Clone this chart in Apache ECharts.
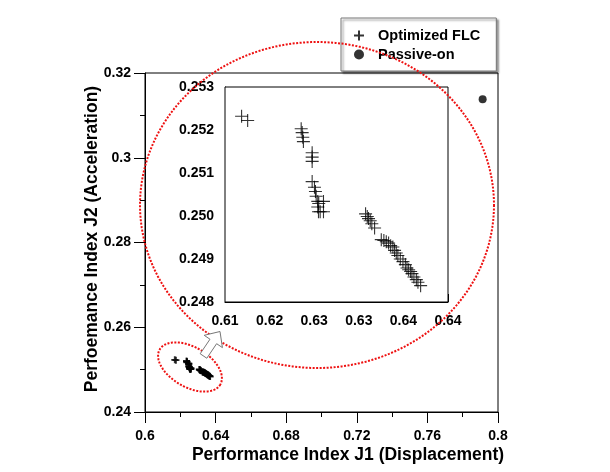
<!DOCTYPE html>
<html>
<head>
<meta charset="utf-8">
<script src="https://cdn.jsdelivr.net/npm/echarts@6/dist/echarts.min.js"></script>
<style>
html,body{margin:0;padding:0;background:#fff;}
#chart{width:610px;height:472px;}
</style>
</head>
<body>
<div id="chart"></div>
<script>
// ---- data ----
const flcJ1 = [0.61686,0.61754,0.62354,0.62365,0.62372,0.62379,0.62477,0.62477,0.62477,0.62477,0.62503,0.62514,0.62522,0.6254,0.62551,0.6254,0.62567,0.62548,0.62604,0.62604,
  0.63076,0.63095,0.63109,0.63128,0.63146,0.63177,0.63252,0.63281,0.63308,0.63334,0.63357,0.63382,0.63401,0.6342,0.63438,0.63465,0.63495,0.63522,0.6354,0.63559,0.63581,0.63596,0.63618,0.63645,0.63663,0.63693];
const flcJ2 = [0.25232,0.25222,0.25203,0.25194,0.25183,0.25173,0.25147,0.25137,0.25127,0.2508,0.25067,0.25057,0.25046,0.25034,0.25029,0.25021,0.2501,0.2501,0.25034,0.2501,
  0.25005,0.24999,0.24994,0.24989,0.24982,0.24972,0.24945,0.24943,0.2494,0.24937,0.24931,0.24928,0.2492,0.24914,0.24908,0.249,0.24894,0.24887,0.24879,0.24875,0.24871,0.24866,0.24858,0.24852,0.24846,0.24838];
const passiveJ1 = [0.7913];
const passiveJ2 = [0.3138];

const seriesNames = ['Optimized FLC', 'Passive-on'];
const xAxisTitle = 'Performance Index J1 (Displacement)';
const yAxisTitle = 'Perfoemance Index J2 (Acceleration)';

// ---- helpers ----
const pairs = (xs, ys) => xs.map((x, i) => [x, ys[i]]);
const plusPath = 'path://M0,5L10,5M5,0L5,10';
const FONT = 'Arial, "Liberation Sans", sans-serif';

function ellipsePts(cx, cy, a, b, rotDeg) {
  const pts = [];
  const r = rotDeg * Math.PI / 180;
  for (let i = 0; i < 180; i++) {
    const t = i / 180 * Math.PI * 2;
    const x = a * Math.cos(t), y = b * Math.sin(t);
    pts.push([cx + x * Math.cos(r) - y * Math.sin(r), cy + x * Math.sin(r) + y * Math.cos(r)]);
  }
  return pts;
}
function arrowPts(tx, ty, hx, hy) {
  const dx = hx - tx, dy = hy - ty, L = Math.hypot(dx, dy);
  const ux = dx / L, uy = dy / L, nx = -uy, ny = ux;
  const local = [[0,-4],[L-12,-4],[L-12,-11],[L,0],[L-12,11],[L-12,4],[0,4]];
  return local.map(([s, w]) => [tx + ux * s + nx * w, ty + uy * s + ny * w]);
}

const chart = echarts.init(document.getElementById('chart'), null, {renderer: 'canvas'});
const axisLabelStyle = {color: '#000', fontWeight: 'bold', fontSize: 14, fontFamily: FONT};

chart.setOption({
  animation: false,
  backgroundColor: '#fff',
  grid: [
    {left: 145, right: 112, top: 73, bottom: 60, show: true, borderColor: '#000', borderWidth: 1, backgroundColor: 'transparent'},
    {left: 225, right: 162, top: 87, bottom: 170, show: true, borderColor: '#000', borderWidth: 1, backgroundColor: '#fff', z: 5}
  ],
  xAxis: [
    {gridIndex: 0, type: 'value', min: 0.6, max: 0.8, interval: 0.04,
      axisLine: {lineStyle: {color: '#000', width: 1}},
      axisTick: {show: true, inside: false, length: 11, lineStyle: {color: '#000'}},
      minorTick: {show: true, splitNumber: 2, length: 5, lineStyle: {color: '#000'}},
      splitLine: {show: false},
      axisLabel: Object.assign({margin: 17}, axisLabelStyle)},
    {gridIndex: 1, type: 'value', min: 0.615, max: 0.64, interval: 0.005,
      axisLine: {lineStyle: {color: '#000', width: 1}},
      axisTick: {show: true, inside: true, length: 8, lineStyle: {color: '#000'}},
      minorTick: {show: true, splitNumber: 2, length: 4, lineStyle: {color: '#000'}},
      splitLine: {show: false},
      axisLabel: Object.assign({margin: 12, formatter: v => v.toFixed(2)}, axisLabelStyle)}
  ],
  yAxis: [
    {gridIndex: 0, type: 'value', min: 0.24, max: 0.32, interval: 0.02,
      axisLine: {lineStyle: {color: '#000', width: 1}},
      axisTick: {show: true, inside: false, length: 11, lineStyle: {color: '#000'}},
      minorTick: {show: true, splitNumber: 2, length: 5, lineStyle: {color: '#000'}},
      splitLine: {show: false},
      axisLabel: Object.assign({margin: 14}, axisLabelStyle)},
    {gridIndex: 1, type: 'value', min: 0.248, max: 0.253, interval: 0.001,
      axisLine: {lineStyle: {color: '#000', width: 1}},
      axisTick: {show: true, inside: true, length: 8, lineStyle: {color: '#000'}},
      minorTick: {show: true, splitNumber: 2, length: 4, lineStyle: {color: '#000'}},
      splitLine: {show: false},
      axisLabel: Object.assign({margin: 11, formatter: v => v.toFixed(3)}, axisLabelStyle)}
  ],
  legend: {
    data: [{name: seriesNames[0], icon: plusPath}, {name: seriesNames[1], icon: 'circle'}],
    orient: 'vertical', left: 341, top: 18,
    padding: [10, 16, 9, 12], itemGap: 4, itemWidth: 20, itemHeight: 10,
    backgroundColor: '#fff', borderColor: '#777', borderWidth: 1,
    shadowColor: 'rgba(0,0,0,0.45)', shadowBlur: 2, shadowOffsetX: 2, shadowOffsetY: 2,
    textStyle: {color: '#000', fontWeight: 'bold', fontSize: 14.5, fontFamily: FONT, padding: [0,0,0,4]},
    selectedMode: false
  },
  series: [
    {name: seriesNames[0], type: 'scatter', xAxisIndex: 0, yAxisIndex: 0,
      data: pairs(flcJ1, flcJ2), symbol: plusPath, symbolSize: 7,
      itemStyle: {color: '#000', borderColor: '#000', borderWidth: 1.8}, z: 3},
    {name: seriesNames[1], type: 'scatter', xAxisIndex: 0, yAxisIndex: 0,
      data: pairs(passiveJ1, passiveJ2), symbol: 'circle', symbolSize: 8,
      itemStyle: {color: '#000'}, z: 3},
    {name: seriesNames[0], type: 'scatter', xAxisIndex: 1, yAxisIndex: 1,
      data: pairs(flcJ1, flcJ2), symbol: plusPath, symbolSize: 13,
      itemStyle: {color: '#000', borderColor: '#000', borderWidth: 1.1}, z: 6}
  ],
  graphic: [
    {type: 'polygon', z: 50, shape: {points: ellipsePts(317, 205, 177, 163, 0)},
      style: {fill: 'none', stroke: '#ee1111', lineWidth: 2, lineDash: [2, 1.5]}},
    {type: 'polygon', z: 50, shape: {points: ellipsePts(190, 367, 35, 20, 30)},
      style: {fill: 'none', stroke: '#ee1111', lineWidth: 2, lineDash: [2, 1.5]}},
    {type: 'polygon', z: 60, shape: {points: arrowPts(203.5, 356, 220, 331.5)},
      style: {fill: '#fff', stroke: '#777', lineWidth: 1}},
    {type: 'text', z: 60, x: 348, y: 455,
      style: {text: xAxisTitle, fill: '#000', font: 'bold 17.5px ' + FONT, align: 'center', verticalAlign: 'middle'}},
    {type: 'text', z: 60, x: 92, y: 239, rotation: Math.PI / 2,
      style: {text: yAxisTitle, fill: '#000', font: 'bold 17.5px ' + FONT, align: 'center', verticalAlign: 'middle'}}
  ]
});
</script>
</body>
</html>
